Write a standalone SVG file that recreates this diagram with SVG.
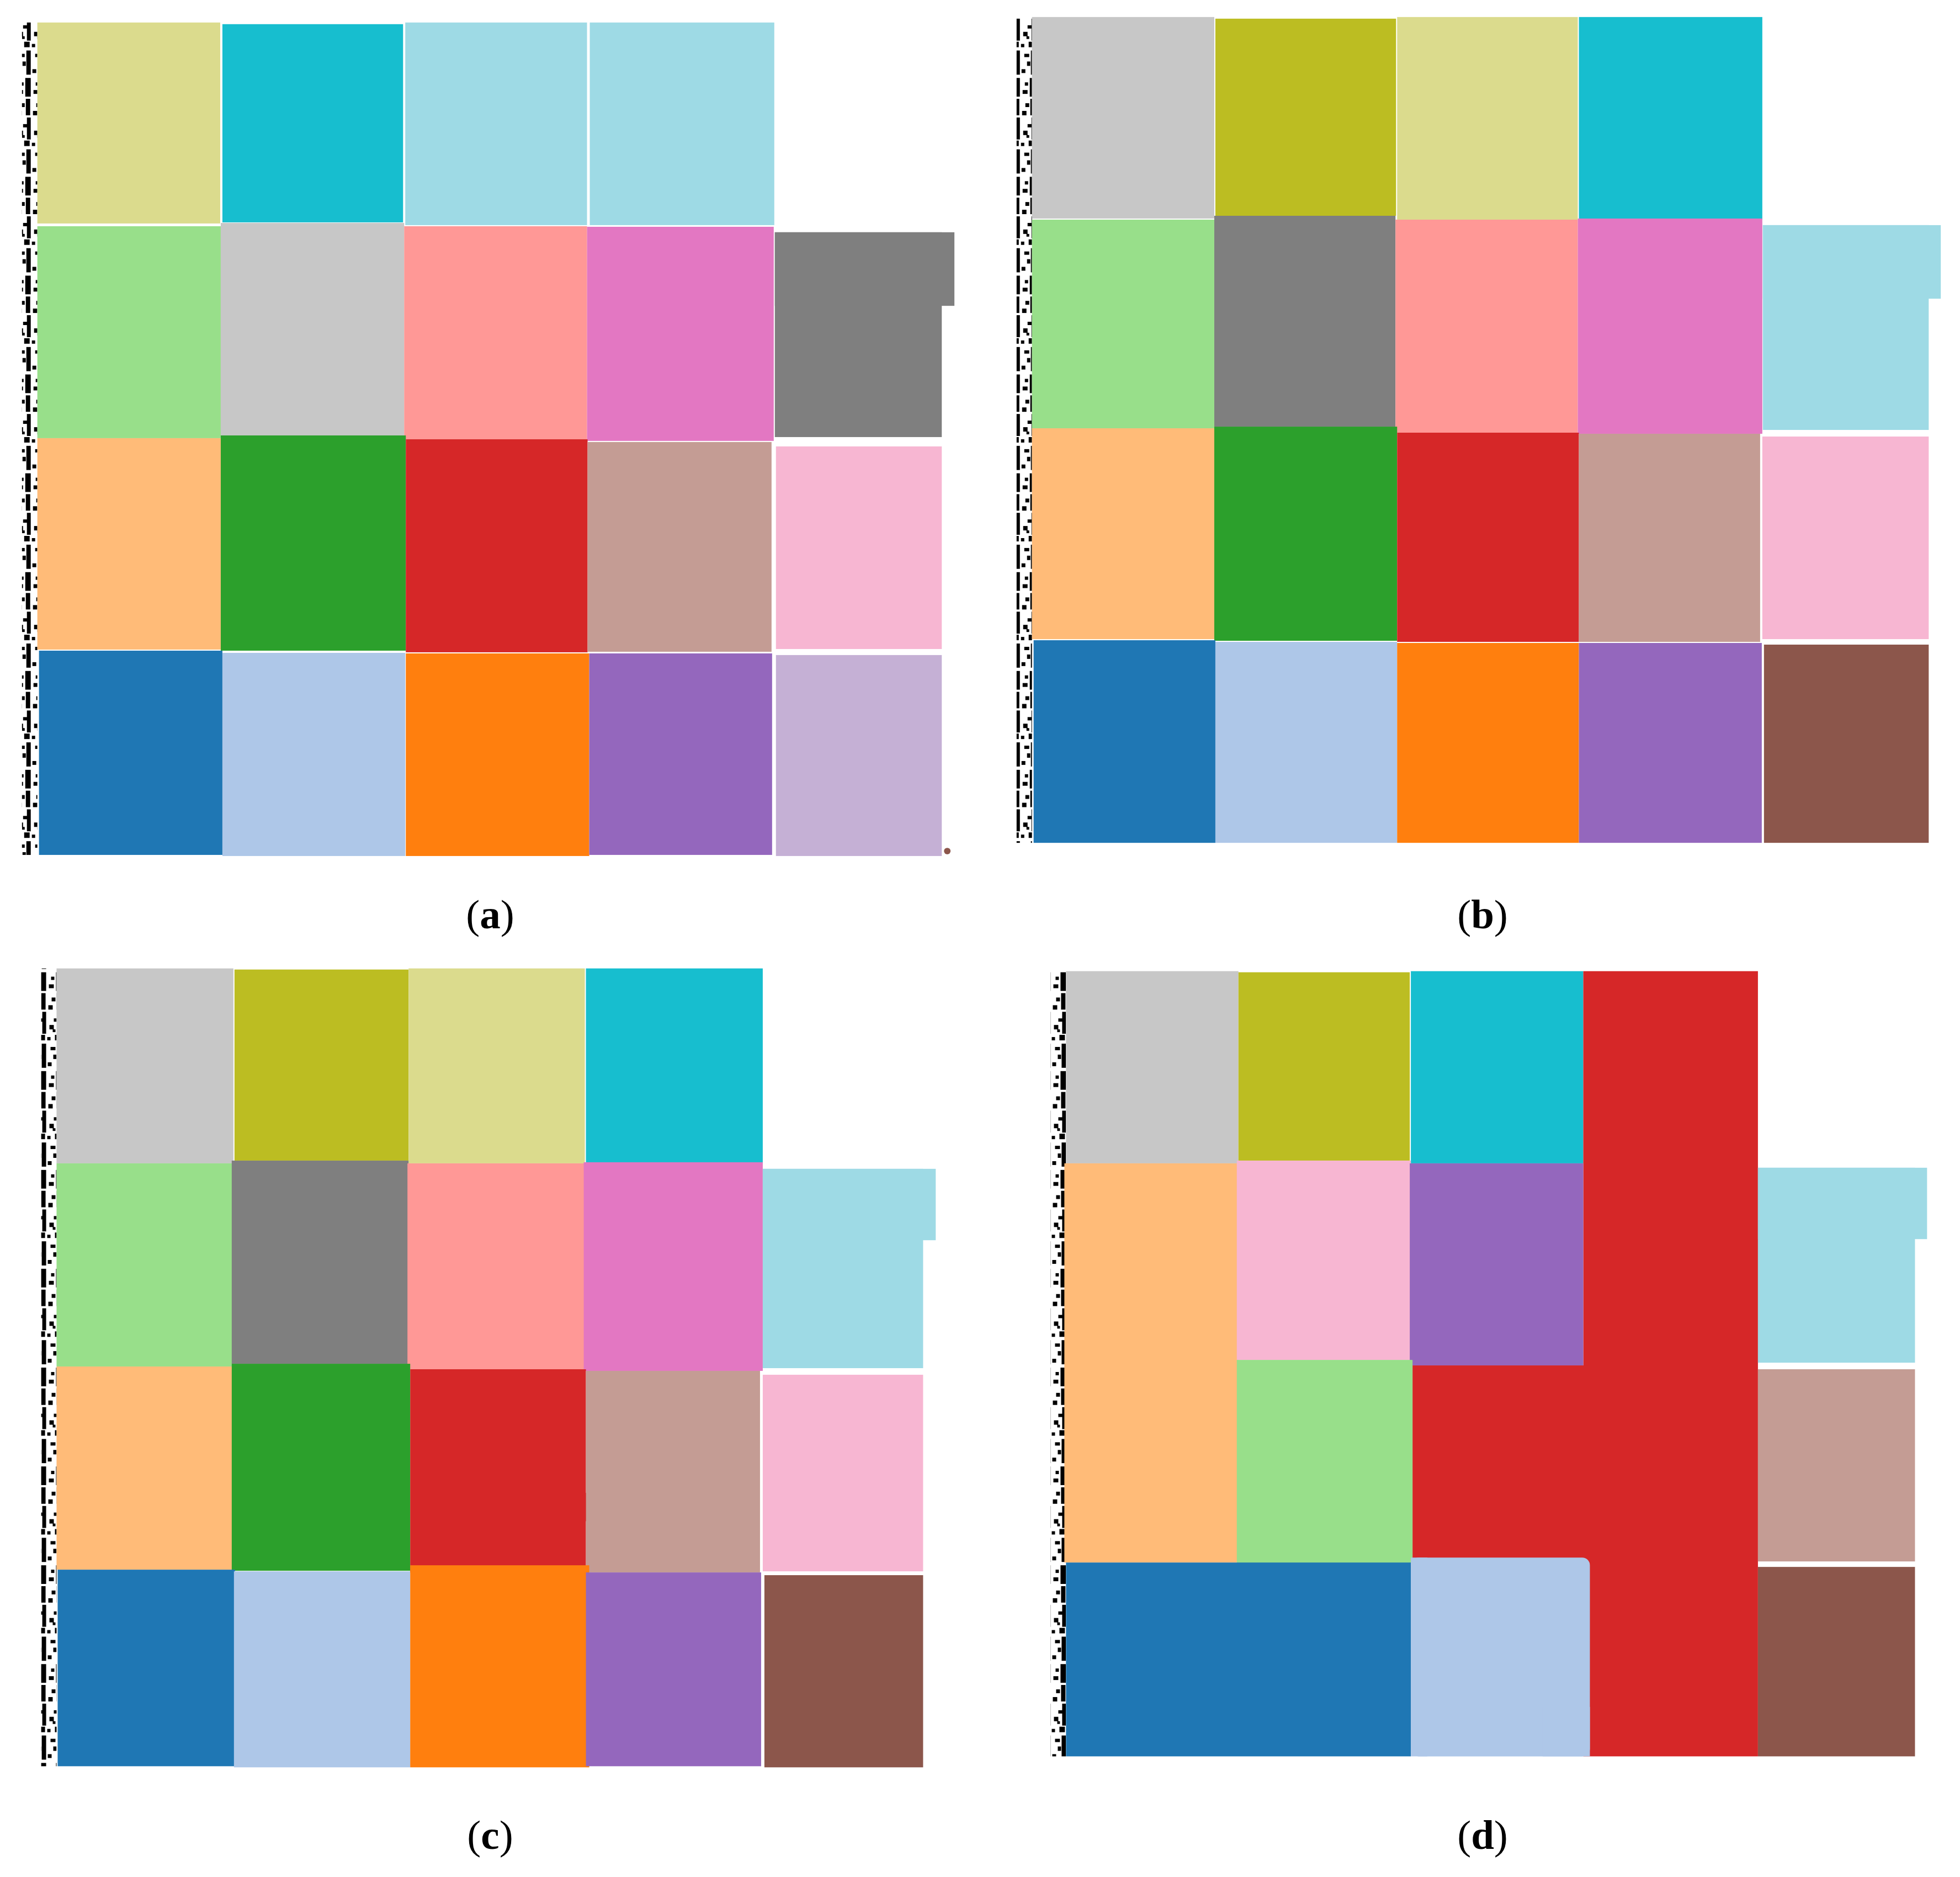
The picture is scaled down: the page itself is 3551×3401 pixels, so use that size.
<svg xmlns="http://www.w3.org/2000/svg" width="3551" height="3401" viewBox="0 0 3551 3401">
<style>
.c1{fill:#1f77b4}.c2{fill:#aec7e8}.c3{fill:#ff7f0e}.c4{fill:#ffbb78}.c5{fill:#2ca02c}.c6{fill:#98df8a}
.c7{fill:#d62728}.c8{fill:#ff9896}.c9{fill:#9467bd}.c10{fill:#c5b0d5}.c11{fill:#8c564b}.c12{fill:#c49c94}
.c13{fill:#e377c2}.c14{fill:#f7b6d2}.c15{fill:#7f7f7f}.c16{fill:#c7c7c7}.c17{fill:#bcbd22}.c18{fill:#dbdb8d}
.c19{fill:#17becf}.c20{fill:#9edae5}
.lbl{font-family:"Liberation Serif","Times New Roman",serif;font-size:75px;fill:#000;text-anchor:middle}
.b{font-weight:bold}
</style>
<defs>
<pattern id="speck" x="0" y="0" width="28" height="180" patternUnits="userSpaceOnUse">
<rect x="19" y="0" width="8" height="30" fill="#000"/>
<rect x="21" y="34" width="7" height="40" fill="#000"/>
<rect x="10" y="8" width="7" height="7" fill="#000"/>
<rect x="4" y="22" width="8" height="8" fill="#000"/>
<rect x="14" y="46" width="7" height="6" fill="#000"/>
<rect x="6" y="58" width="8" height="8" fill="#000"/>
<rect x="16" y="76" width="10" height="10" fill="#000"/>
<rect x="2" y="80" width="6" height="6" fill="#000"/>
<rect x="12" y="66" width="5" height="5" fill="#000"/>
<rect x="20" y="92" width="8" height="44" fill="#000"/>
<rect x="8" y="98" width="9" height="6" fill="#000"/>
<rect x="13" y="112" width="6" height="8" fill="#000"/>
<rect x="3" y="126" width="7" height="7" fill="#000"/>
<rect x="18" y="142" width="10" height="34" fill="#000"/>
<rect x="9" y="150" width="6" height="6" fill="#000"/>
<rect x="5" y="164" width="9" height="7" fill="#000"/>
</pattern>
</defs>
<rect width="3551" height="3401" fill="#fff"/>

<g id="panel-a" transform="scale(0.9949)">
<rect x="40" y="41" width="28" height="1516" fill="url(#speck)"/>
<rect class="c18" x="68" y="41" width="333" height="366"/>
<rect class="c19" x="405" y="44" width="329" height="361"/>
<rect class="c20" x="738" y="41" width="331" height="369"/>
<rect class="c20" x="1074" y="41" width="336" height="369"/>
<rect class="c6" x="68" y="412" width="334" height="386"/>
<rect class="c16" x="402" y="406" width="334" height="387"/>
<rect class="c8" x="736" y="412" width="333" height="388"/>
<rect class="c13" x="1069" y="413" width="340" height="390"/>
<rect class="c15" x="1411" y="423" width="304" height="373"/>
<rect class="c15" x="1411" y="423" width="327" height="134"/>
<rect class="c4" x="68" y="798" width="334" height="385"/>
<rect class="c5" x="402" y="793" width="337" height="392"/>
<rect class="c7" x="739" y="800" width="331" height="388"/>
<rect class="c12" x="1070" y="805" width="335" height="382"/>
<rect class="c14" x="1413" y="813" width="302" height="369"/>
<rect class="c1" x="71" y="1185" width="334" height="372"/>
<rect class="c2" x="405" y="1189" width="333" height="370"/>
<rect class="c3" x="739" y="1190" width="334" height="369"/>
<rect class="c9" x="1073" y="1190" width="333" height="367"/>
<rect class="c10" x="1413" y="1193" width="302" height="366"/>
<circle class="c11" cx="1725" cy="1550" r="6"/>
</g>

<g id="panel-b" transform="translate(1800,0) scale(0.9949) translate(-1800,0)">
<rect x="1842" y="31" width="28" height="1504" fill="url(#speck)"/>
<rect class="c16" x="1870" y="31" width="332" height="367"/>
<rect class="c17" x="2204" y="34" width="329" height="359"/>
<rect class="c18" x="2535" y="31" width="329" height="369"/>
<rect class="c19" x="2866" y="31" width="334" height="369"/>
<rect class="c6" x="1870" y="400" width="332" height="382"/>
<rect class="c15" x="2202" y="393" width="330" height="384"/>
<rect class="c8" x="2532" y="400" width="332" height="388"/>
<rect class="c13" x="2864" y="398" width="336" height="392"/>
<rect class="c20" x="3201" y="410" width="302" height="373"/>
<rect class="c20" x="3201" y="410" width="324" height="134"/>
<rect class="c4" x="1870" y="780" width="334" height="384"/>
<rect class="c5" x="2202" y="777" width="333" height="390"/>
<rect class="c7" x="2535" y="788" width="331" height="381"/>
<rect class="c12" x="2866" y="790" width="330" height="379"/>
<rect class="c14" x="3200" y="795" width="303" height="369"/>
<rect class="c1" x="1873" y="1166" width="331" height="369"/>
<rect class="c2" x="2204" y="1169" width="331" height="366"/>
<rect class="c3" x="2535" y="1171" width="331" height="364"/>
<rect class="c9" x="2866" y="1171" width="333" height="364"/>
<rect class="c11" x="3203" y="1174" width="300" height="361"/>
</g>

<g id="panel-c" transform="translate(0,1700) scale(0.9949) translate(0,-1700)">
<rect x="75" y="1755" width="28" height="1453" fill="url(#speck)"/>
<rect class="c16" x="103" y="1755" width="322" height="355"/>
<rect class="c17" x="427" y="1757" width="317" height="348"/>
<rect class="c18" x="744" y="1755" width="321" height="355"/>
<rect class="c19" x="1067" y="1755" width="322" height="355"/>
<rect class="c6" x="103" y="2110" width="322" height="370"/>
<rect class="c15" x="422" y="2105" width="322" height="370"/>
<rect class="c8" x="742" y="2110" width="325" height="375"/>
<rect class="c13" x="1063" y="2108" width="326" height="380"/>
<rect class="c20" x="1389" y="2120" width="292" height="363"/>
<rect class="c20" x="1389" y="2120" width="315" height="130"/>
<rect class="c4" x="103" y="2480" width="322" height="370"/>
<rect class="c5" x="422" y="2475" width="325" height="377"/>
<rect class="c7" x="747" y="2485" width="320" height="370"/>
<rect class="c7" x="1060" y="2710" width="18" height="52" rx="8"/>
<rect class="c12" x="1067" y="2488" width="317" height="367"/>
<rect class="c14" x="1389" y="2495" width="292" height="358"/>
<rect class="c1" x="105" y="2850" width="323" height="358"/>
<rect class="c2" x="426" y="2853" width="321" height="357"/>
<rect class="c3" x="747" y="2842" width="326" height="368"/>
<rect class="c9" x="1067" y="2855" width="319" height="353"/>
<rect class="c11" x="1392" y="2860" width="289" height="350"/>
</g>

<g id="panel-d" transform="translate(1800,1700) scale(0.9949) translate(-1800,-1700)">
<rect x="1904" y="1760" width="28" height="1430" fill="url(#speck)"/>
<rect class="c16" x="1932" y="1760" width="314" height="350"/>
<rect class="c17" x="2246" y="1762" width="312" height="343"/>
<rect class="c19" x="2560" y="1760" width="314" height="350"/>
<rect class="c7" x="2874" y="1760" width="318" height="1430"/>
<rect class="c7" x="2563" y="2478" width="320" height="352"/>
<rect class="c4" x="1929" y="2110" width="317" height="727"/>
<rect class="c14" x="2243" y="2105" width="317" height="363"/>
<rect class="c9" x="2558" y="2110" width="316" height="368"/>
<rect class="c20" x="3192" y="2118" width="286" height="355"/>
<rect class="c20" x="3192" y="2118" width="308" height="130"/>
<rect class="c6" x="2243" y="2468" width="320" height="370"/>
<rect class="c12" x="3192" y="2485" width="286" height="350"/>
<rect class="c1" x="1932" y="2837" width="628" height="353"/>
<rect class="c2" x="2560" y="2828" width="326" height="362" rx="14"/>
<rect class="c2" x="2560" y="2828" width="30" height="362"/>
<rect class="c2" x="2800" y="3100" width="86" height="90"/>
<rect class="c11" x="3192" y="2845" width="286" height="345"/>
</g>

<g id="labels">
<text class="lbl" x="888" y="1682">(<tspan class="b">a</tspan>)</text>
<text class="lbl" x="2686" y="1682">(<tspan class="b">b</tspan>)</text>
<text class="lbl" x="888" y="3350">(<tspan class="b">c</tspan>)</text>
<text class="lbl" x="2686" y="3350">(<tspan class="b">d</tspan>)</text>
</g>
</svg>
